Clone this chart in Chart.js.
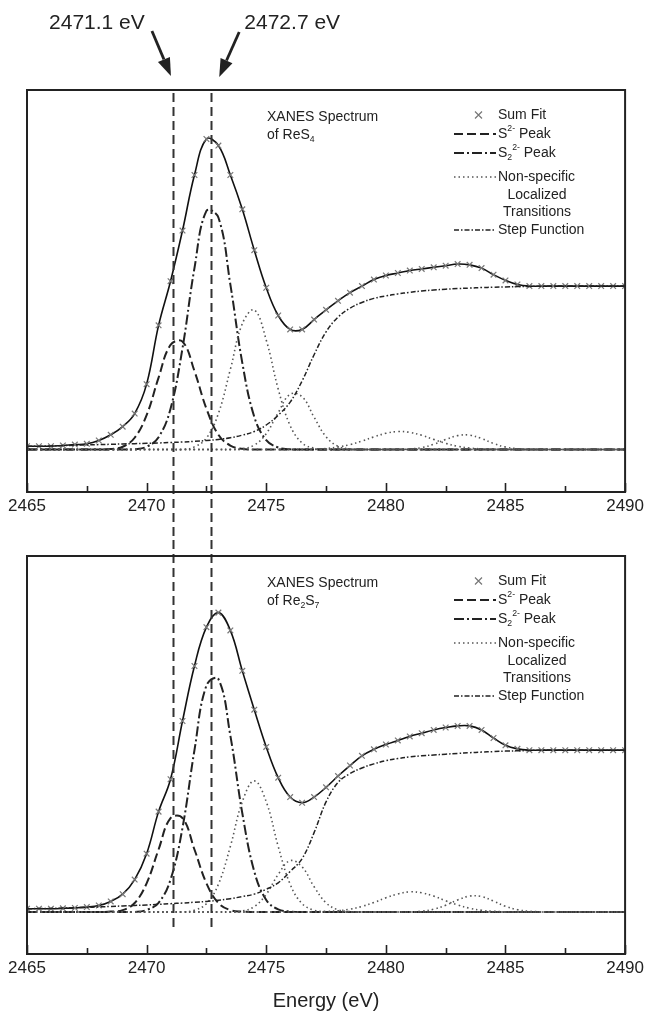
<!DOCTYPE html>
<html>
<head>
<meta charset="utf-8">
<script src="https://cdn.jsdelivr.net/npm/chart.js@4.4.1/dist/chart.umd.min.js"></script>
<style>
body { margin: 0; background: #fff; }
#topChart { position: absolute; left: 0; top: 0; }
#bottomChart { position: absolute; left: 0; top: 540px; }
</style>
</head>
<body>
<canvas id="topChart" width="648" height="540"></canvas>
<canvas id="bottomChart" width="648" height="475"></canvas>
<script>
// energy grid (eV), 0.5 eV steps
var energy = [
  2465, 2465.5, 2466, 2466.5, 2467, 2467.5, 2468, 2468.5, 2469, 2469.5,
  2470, 2470.5, 2471, 2471.5, 2472, 2472.5, 2473, 2473.5, 2474, 2474.5,
  2475, 2475.5, 2476, 2476.5, 2477, 2477.5, 2478, 2478.5, 2479, 2479.5,
  2480, 2480.5, 2481, 2481.5, 2482, 2482.5, 2483, 2483.5, 2484, 2484.5,
  2485, 2485.5, 2486, 2486.5, 2487, 2487.5, 2488, 2488.5, 2489, 2489.5, 2490
];
var majorTicks = [2465, 2470, 2475, 2480, 2485, 2490];
var minorTicks = [2467.5, 2472.5, 2477.5, 2482.5, 2487.5];
var markedEdges = [2471.1, 2472.7];
var edgeLabels = ['2471.1 eV', '2472.7 eV'];

// ---- ReS4 (top panel) ----
var sumReS4 = [
  0.02, 0.02, 0.02, 0.025, 0.03, 0.035, 0.055, 0.09, 0.14, 0.22,
  0.40, 0.76, 1.03, 1.34, 1.68, 1.90, 1.86, 1.68, 1.47, 1.22,
  0.99, 0.82, 0.735, 0.735, 0.795, 0.855, 0.91, 0.96, 1.00, 1.04,
  1.065, 1.08, 1.095, 1.105, 1.115, 1.125, 1.135, 1.13, 1.11, 1.07,
  1.035, 1.01, 1.0, 1.0, 1.0, 1.0, 1.0, 1.0, 1.0, 1.0, 1.0
];
var s2ReS4 = [
  0, 0, 0, 0, 0, 0, 0, 0.003, 0.017, 0.072,
  0.21, 0.44, 0.64, 0.66, 0.48, 0.25, 0.09, 0.024, 0.004, 0,
  0, 0, 0, 0, 0, 0, 0, 0, 0, 0,
  0, 0, 0, 0, 0, 0, 0, 0, 0, 0,
  0, 0, 0, 0, 0, 0, 0, 0, 0, 0, 0
];
var s22ReS4 = [
  0, 0, 0, 0, 0, 0, 0, 0, 0, 0.002,
  0.017, 0.075, 0.25, 0.62, 1.11, 1.46, 1.42, 1.01, 0.53, 0.20,
  0.057, 0.012, 0.001, 0, 0, 0, 0, 0, 0, 0,
  0, 0, 0, 0, 0, 0, 0, 0, 0, 0,
  0, 0, 0, 0, 0, 0, 0, 0, 0, 0, 0
];
var loc1ReS4 = [
  0, 0, 0, 0, 0, 0, 0, 0, 0, 0,
  0, 0, 0, 0, 0.016, 0.07, 0.22, 0.49, 0.77, 0.854,
  0.67, 0.37, 0.146, 0.04, 0.008, 0, 0, 0, 0, 0,
  0, 0, 0, 0, 0, 0, 0, 0, 0, 0,
  0, 0, 0, 0, 0, 0, 0, 0, 0, 0, 0
];
var loc2ReS4 = [
  0, 0, 0, 0, 0, 0, 0, 0, 0, 0,
  0, 0, 0, 0, 0, 0, 0, 0, 0.005, 0.027,
  0.097, 0.226, 0.338, 0.323, 0.198, 0.078, 0.02, 0.003, 0, 0,
  0, 0, 0, 0, 0, 0, 0, 0, 0, 0,
  0, 0, 0, 0, 0, 0, 0, 0, 0, 0, 0
];
var loc3ReS4 = [
  0, 0, 0, 0, 0, 0, 0, 0, 0, 0,
  0, 0, 0, 0, 0, 0, 0, 0, 0, 0,
  0, 0, 0, 0, 0.002, 0.006, 0.015, 0.03, 0.052, 0.077,
  0.099, 0.11, 0.105, 0.087, 0.062, 0.038, 0.02, 0.009, 0.004, 0.001,
  0, 0, 0, 0, 0, 0, 0, 0, 0, 0, 0
];
var loc4ReS4 = [
  0, 0, 0, 0, 0, 0, 0, 0, 0, 0,
  0, 0, 0, 0, 0, 0, 0, 0, 0, 0,
  0, 0, 0, 0, 0, 0, 0, 0, 0, 0,
  0, 0, 0.003, 0.012, 0.032, 0.061, 0.085, 0.088, 0.067, 0.037,
  0.015, 0.005, 0.001, 0, 0, 0, 0, 0, 0, 0, 0
];
var stepReS4 = [
  0.02, 0.02, 0.022, 0.024, 0.026, 0.028, 0.03, 0.032, 0.034, 0.036,
  0.038, 0.04, 0.043, 0.046, 0.05, 0.055, 0.062, 0.072, 0.088, 0.11,
  0.15, 0.21, 0.29, 0.42, 0.58, 0.72, 0.81, 0.865, 0.9, 0.925,
  0.94, 0.952, 0.962, 0.97, 0.976, 0.981, 0.985, 0.988, 0.991, 0.993,
  0.995, 0.997, 0.998, 0.999, 1, 1, 1, 1, 1, 1, 1
];

// ---- Re2S7 (bottom panel) ----
var sumRe2S7 = [
  0.02, 0.02, 0.02, 0.022, 0.025, 0.03, 0.04, 0.065, 0.11, 0.20,
  0.36, 0.62, 0.82, 1.18, 1.52, 1.76, 1.85, 1.74, 1.49, 1.25,
  1.02, 0.83, 0.71, 0.675, 0.71, 0.77, 0.84, 0.905, 0.965, 1.005,
  1.035, 1.06, 1.085, 1.105, 1.125, 1.14, 1.15, 1.15, 1.125, 1.075,
  1.03, 1.008, 1.0, 1.0, 1.0, 1.0, 1.0, 1.0, 1.0, 1.0, 1.0
];
var s2Re2S7 = [
  0, 0, 0, 0, 0, 0, 0, 0.002, 0.011, 0.055,
  0.177, 0.386, 0.58, 0.58, 0.386, 0.177, 0.055, 0.011, 0.002, 0,
  0, 0, 0, 0, 0, 0, 0, 0, 0, 0,
  0, 0, 0, 0, 0, 0, 0, 0, 0, 0,
  0, 0, 0, 0, 0, 0, 0, 0, 0, 0, 0
];
var s22Re2S7 = [
  0, 0, 0, 0, 0, 0, 0, 0, 0, 0,
  0.012, 0.056, 0.20, 0.52, 1.00, 1.40, 1.44, 1.09, 0.61, 0.25,
  0.074, 0.016, 0.003, 0, 0, 0, 0, 0, 0, 0,
  0, 0, 0, 0, 0, 0, 0, 0, 0, 0,
  0, 0, 0, 0, 0, 0, 0, 0, 0, 0, 0
];
var loc1Re2S7 = [
  0, 0, 0, 0, 0, 0, 0, 0, 0, 0,
  0, 0, 0, 0, 0.011, 0.051, 0.171, 0.405, 0.681, 0.81,
  0.681, 0.405, 0.171, 0.051, 0.011, 0.002, 0, 0, 0, 0,
  0, 0, 0, 0, 0, 0, 0, 0, 0, 0,
  0, 0, 0, 0, 0, 0, 0, 0, 0, 0, 0
];
var loc2Re2S7 = [
  0, 0, 0, 0, 0, 0, 0, 0, 0, 0,
  0, 0, 0, 0, 0, 0, 0, 0, 0.006, 0.033,
  0.109, 0.232, 0.317, 0.278, 0.156, 0.056, 0.013, 0.002, 0, 0,
  0, 0, 0, 0, 0, 0, 0, 0, 0, 0,
  0, 0, 0, 0, 0, 0, 0, 0, 0, 0, 0
];
var loc3Re2S7 = [
  0, 0, 0, 0, 0, 0, 0, 0, 0, 0,
  0, 0, 0, 0, 0, 0, 0, 0, 0, 0,
  0, 0, 0, 0, 0, 0.003, 0.007, 0.017, 0.034, 0.058,
  0.087, 0.111, 0.124, 0.118, 0.098, 0.069, 0.043, 0.023, 0.010, 0.004,
  0.001, 0, 0, 0, 0, 0, 0, 0, 0, 0, 0
];
var loc4Re2S7 = [
  0, 0, 0, 0, 0, 0, 0, 0, 0, 0,
  0, 0, 0, 0, 0, 0, 0, 0, 0, 0,
  0, 0, 0, 0, 0, 0, 0, 0, 0, 0,
  0, 0, 0, 0.005, 0.017, 0.041, 0.074, 0.098, 0.095, 0.067,
  0.035, 0.014, 0.004, 0.001, 0, 0, 0, 0, 0, 0, 0
];
var stepRe2S7 = [
  0.02, 0.021, 0.022, 0.024, 0.026, 0.028, 0.031, 0.034, 0.037, 0.04,
  0.043, 0.047, 0.051, 0.055, 0.06, 0.065, 0.072, 0.082, 0.095, 0.11,
  0.14, 0.18, 0.25, 0.33, 0.49, 0.68, 0.80, 0.855, 0.89, 0.915,
  0.935, 0.948, 0.958, 0.965, 0.97, 0.975, 0.98, 0.984, 0.988, 0.991,
  0.994, 0.996, 0.998, 1, 1, 1, 1, 1, 1, 1, 1
];

var FONT = '"Liberation Sans", Arial, Helvetica, sans-serif';
var INK = '#222';
var DOT_INK = '#555';
var MARK_INK = '#777';
var DASH_S2 = [9, 4];
var DASH_S22 = [10, 3, 2, 3];
var DASH_LOC = [1.5, 3];
var DASH_STEP = [5, 2, 1.5, 2];

function pts(vals) {
  return vals.map(function (v, i) { return { x: energy[i], y: v }; });
}

function makeDatasets(p) {
  var line = function (label, vals, dash, width, color) {
    return {
      label: label, data: pts(vals), borderDash: dash, borderWidth: width,
      borderColor: color, pointRadius: 0, fill: false, tension: 0.4
    };
  };
  return [
    line('Step Function', p.step, DASH_STEP, 1.5, INK),
    line('Non-specific Localized Transitions', p.loc1, DASH_LOC, 1.6, DOT_INK),
    line('Non-specific Localized Transitions', p.loc2, DASH_LOC, 1.6, DOT_INK),
    line('Non-specific Localized Transitions', p.loc3, DASH_LOC, 1.6, DOT_INK),
    line('Non-specific Localized Transitions', p.loc4, DASH_LOC, 1.6, DOT_INK),
    line('S2 2- Peak', p.s22, DASH_S22, 2, INK),
    line('S2- Peak', p.s2, DASH_S2, 2, INK),
    {
      label: 'Sum Fit', data: pts(p.sum), borderColor: '#111', borderWidth: 1.6,
      tension: 0.4, fill: false, pointStyle: 'crossRot', pointRadius: 4,
      pointBorderColor: MARK_INK, pointBorderWidth: 1.2, pointBackgroundColor: MARK_INK
    }
  ];
}

function drawRich(ctx, x, y, parts, size) {
  parts.forEach(function (p) {
    var s = (p.sub || p.sup) ? size * 0.62 : size;
    var dy = p.sub ? size * 0.32 : (p.sup ? -size * 0.36 : 0);
    ctx.font = s + 'px ' + FONT;
    ctx.fillText(p.t, x, y + dy);
    x += ctx.measureText(p.t).width;
  });
}

function drawArrow(ctx, x0, y0, x1, y1) {
  var a = Math.atan2(y1 - y0, x1 - x0), L = 18, W = 6.5;
  var bx = x1 - L * Math.cos(a), by = y1 - L * Math.sin(a);
  ctx.lineWidth = 2.8;
  ctx.setLineDash([]);
  ctx.beginPath(); ctx.moveTo(x0, y0); ctx.lineTo(bx, by); ctx.stroke();
  ctx.beginPath();
  ctx.moveTo(x1, y1);
  ctx.lineTo(bx + W * Math.sin(a), by - W * Math.cos(a));
  ctx.lineTo(bx - W * Math.sin(a), by + W * Math.cos(a));
  ctx.closePath(); ctx.fill();
}

var legendRows = [
  { kind: 'marker', dy: 25, parts: [{ t: 'Sum Fit' }] },
  { kind: 'line', dy: 44, dash: DASH_S2, width: 2, color: INK, parts: [{ t: 'S' }, { t: '2-', sup: true }, { t: ' Peak' }] },
  { kind: 'line', dy: 63, dash: DASH_S22, width: 2, color: INK, parts: [{ t: 'S' }, { t: '2', sub: true }, { t: '2-', sup: true }, { t: ' Peak' }] },
  { kind: 'line', dy: 87, dash: DASH_LOC, width: 1.6, color: DOT_INK, parts: [{ t: 'Non-specific' }] },
  { kind: 'line', dy: 140, dash: DASH_STEP, width: 1.5, color: INK, parts: [{ t: 'Step Function' }] }
];
var legendExtra = [{ dy: 105.5, t: 'Localized' }, { dy: 122.5, t: 'Transitions' }];

var decorPlugin = {
  id: 'decor',
  afterDatasetsDraw: function (chart, args, opts) {
    var ctx = chart.ctx, area = chart.chartArea, xs = chart.scales.x;
    ctx.save();
    // vertical edge markers
    ctx.strokeStyle = '#333';
    ctx.lineWidth = 2;
    ctx.setLineDash([9, 5]);
    markedEdges.forEach(function (e) {
      var x = Math.round(xs.getPixelForValue(e)) + 0.5;
      ctx.beginPath();
      ctx.moveTo(x, opts.lineTop === 'area' ? area.top + 3 : 0);
      ctx.lineTo(x, opts.lineBottom);
      ctx.stroke();
    });
    ctx.setLineDash([]);

    // frame
    ctx.strokeStyle = INK;
    ctx.lineWidth = 2;
    ctx.strokeRect(area.left, area.top, area.right - area.left, area.bottom - area.top);

    // inward ticks
    ctx.lineWidth = 1.6;
    majorTicks.concat(minorTicks).forEach(function (t) {
      var len = majorTicks.indexOf(t) >= 0 ? 9 : 6;
      var x = Math.round(xs.getPixelForValue(t)) + 0.5;
      ctx.beginPath(); ctx.moveTo(x, area.bottom); ctx.lineTo(x, area.bottom - len); ctx.stroke();
    });

    // panel caption
    ctx.fillStyle = INK;
    ctx.textBaseline = 'middle';
    ctx.textAlign = 'left';
    ctx.font = '14px ' + FONT;
    ctx.fillText('XANES Spectrum', 267, area.top + 27);
    drawRich(ctx, 267, area.top + 45, opts.compound, 14);

    // legend
    var lx0 = 454, lx1 = 496, tx = 498;
    legendRows.forEach(function (r) {
      var y = area.top + r.dy;
      if (r.kind === 'marker') {
        ctx.strokeStyle = MARK_INK; ctx.lineWidth = 1.2;
        ctx.beginPath();
        ctx.moveTo(475, y - 3.5); ctx.lineTo(482, y + 3.5);
        ctx.moveTo(482, y - 3.5); ctx.lineTo(475, y + 3.5);
        ctx.stroke();
      } else {
        ctx.strokeStyle = r.color; ctx.lineWidth = r.width;
        ctx.setLineDash(r.dash);
        ctx.beginPath(); ctx.moveTo(lx0, y); ctx.lineTo(lx1, y); ctx.stroke();
        ctx.setLineDash([]);
      }
      ctx.fillStyle = INK;
      drawRich(ctx, tx, y, r.parts, 14);
    });
    ctx.textAlign = 'center';
    ctx.font = '14px ' + FONT;
    legendExtra.forEach(function (r) { ctx.fillText(r.t, 537, area.top + r.dy); });

    // arrows with energy labels
    if (opts.arrows) {
      var p1 = xs.getPixelForValue(markedEdges[0]);
      var p2 = xs.getPixelForValue(markedEdges[1]);
      ctx.strokeStyle = INK; ctx.fillStyle = INK;
      drawArrow(ctx, p1 - 21, 31, p1 - 2, 76);
      drawArrow(ctx, p2 + 28, 32, p2 + 8, 77);
      ctx.font = '21px ' + FONT;
      ctx.textAlign = 'center';
      ctx.fillText(edgeLabels[0], p1 - 76, 23);
      ctx.fillText(edgeLabels[1], p2 + 81, 23);
    }
    ctx.restore();
  }
};

function makeChart(id, panel, cfg) {
  var xAxis = {
    type: 'linear', min: 2465, max: 2490,
    ticks: {
      stepSize: 5, padding: 4, color: INK, maxRotation: 0, autoSkip: false,
      font: { family: FONT, size: 17 },
      callback: function (v) { return String(v); }
    },
    grid: { display: false, drawTicks: false },
    border: { display: false },
    afterFit: function (s) { s.height = cfg.axisHeight; }
  };
  if (cfg.title) {
    xAxis.title = {
      display: true, text: cfg.title, color: INK,
      font: { family: FONT, size: 20 }, padding: { top: 0, bottom: 2 }
    };
  }
  return new Chart(document.getElementById(id), {
    type: 'line',
    data: { datasets: makeDatasets(panel) },
    options: {
      responsive: false,
      animation: false,
      layout: { padding: { left: 27, right: 22, top: cfg.padTop, bottom: 0 } },
      plugins: {
        legend: { display: false },
        tooltip: { enabled: false },
        decor: cfg.decor
      },
      scales: {
        x: xAxis,
        y: { display: false, min: -0.26, max: 2.2 }
      }
    },
    plugins: [decorPlugin]
  });
}

makeChart('topChart', {
  sum: sumReS4, s2: s2ReS4, s22: s22ReS4, step: stepReS4,
  loc1: loc1ReS4, loc2: loc2ReS4, loc3: loc3ReS4, loc4: loc4ReS4
}, {
  padTop: 90, axisHeight: 48,
  decor: { lineTop: 'area', lineBottom: 540, arrows: true, compound: [{ t: 'of ReS' }, { t: '4', sub: true }] }
});

makeChart('bottomChart', {
  sum: sumRe2S7, s2: s2Re2S7, s22: s22Re2S7, step: stepRe2S7,
  loc1: loc1Re2S7, loc2: loc2Re2S7, loc3: loc3Re2S7, loc4: loc4Re2S7
}, {
  padTop: 16, axisHeight: 61, title: 'Energy (eV)',
  decor: { lineTop: 'canvas', lineBottom: 390, arrows: false, compound: [{ t: 'of Re' }, { t: '2', sub: true }, { t: 'S' }, { t: '7', sub: true }] }
});
</script>
</body>
</html>
